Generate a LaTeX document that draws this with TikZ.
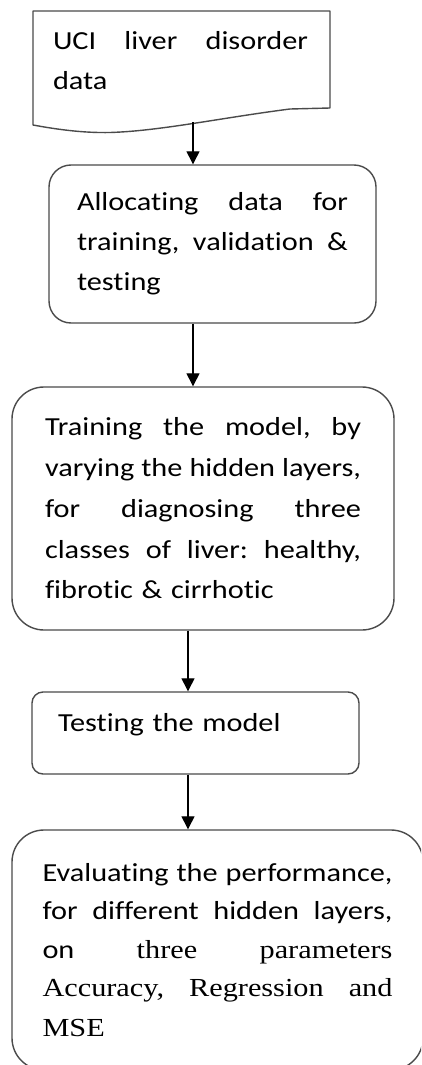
\documentclass[tikz,border=0pt]{standalone}
\usepackage{fontspec}
\setmainfont{Carlito}[FakeStretch=1.165,Ligatures={NoCommon}]
\newfontfamily\timesf{Liberation Serif}[FakeStretch=1.165]
\usetikzlibrary{arrows.meta}
\definecolor{edge}{RGB}{75,75,75}
\tikzset{
  boxline/.style={draw=edge, line width=1.4pt},
  rbox/.style={boxline, rectangle, inner sep=0pt, align=left},
  arr/.style={draw=black, line width=1.3pt, -{Triangle[width=13pt,length=13pt]}},
  txt/.style={inner sep=0pt, align=left},
}
\newcommand\jl[2]{\leavevmode\hbox to #1{#2}}
\begin{document}
\begin{tikzpicture}[x=1pt,y=-1pt]
\clip (0,0) rectangle (421,1065);
\fill[white] (0,0) rectangle (421,1065);
\fontsize{26}{40}\selectfont
% document shape
\draw[boxline, line join=round] (330,108) -- (330,11) -- (33,11) -- (33,125)
  .. controls (60,130) and (85,133) .. (110,132.5)
  .. controls (160,131) and (220,118) .. (290,109) -- cycle;
\node[txt, text width=255pt] (uci) at (180.5,61) {\jl{255pt}{UCI\hfill liver\hfill disorder}\\data};
\coordinate (docbot) at (193,122);
\coordinate (ax) at (188,0);
% boxes
\node[rbox, rounded corners=22pt, minimum width=327pt, minimum height=158pt, text width=271pt] (alloc) at (212.5,244)
  {\jl{271pt}{Allocating\hfill data\hfill for}\\\jl{271pt}{training,\hfill validation\hfill \&}\\testing};
\node[rbox, rounded corners=32pt, minimum width=382pt, minimum height=243pt, text width=316pt] (train) at (203,508.5)
  {\fontsize{26}{41}\selectfont\jl{316pt}{Training\hfill the\hfill model,\hfill by}\\\jl{316pt}{varying\hfill the\hfill hidden\hfill layers,}\\\jl{316pt}{for\hfill diagnosing\hfill three}\\\jl{316pt}{classes\hfill of\hfill liver:\hfill healthy,}\\fibrotic \& cirrhotic};
\node[rbox, rounded corners=11pt, minimum width=327pt, minimum height=82pt, text width=275pt, text height=18pt, text depth=22pt] (test) at (195.5,733)
  {Testing the model};
\node[rbox, rounded corners=32pt, minimum width=411pt, minimum height=240pt, text width=350pt] (eval) at (217.5,950)
  {\fontsize{26}{38.5}\selectfont\jl{350pt}{Evaluating\hfill the\hfill performance,}\\\jl{350pt}{for\hfill different\hfill hidden\hfill layers,}\\\jl{350pt}{on\hfill \timesf three\hfill parameters}\\\jl{350pt}{\timesf Accuracy,\hfill Regression\hfill and}\\{\timesf MSE}};
% connectors
\draw[arr] (docbot) -- (alloc.north -| docbot);
\draw[arr] (alloc.south -| docbot) -- (train.north -| docbot);
\draw[arr] (train.south -| ax) -- (test.north -| ax);
\draw[arr] (test.south -| ax) -- (eval.north -| ax);
\end{tikzpicture}
\end{document}
